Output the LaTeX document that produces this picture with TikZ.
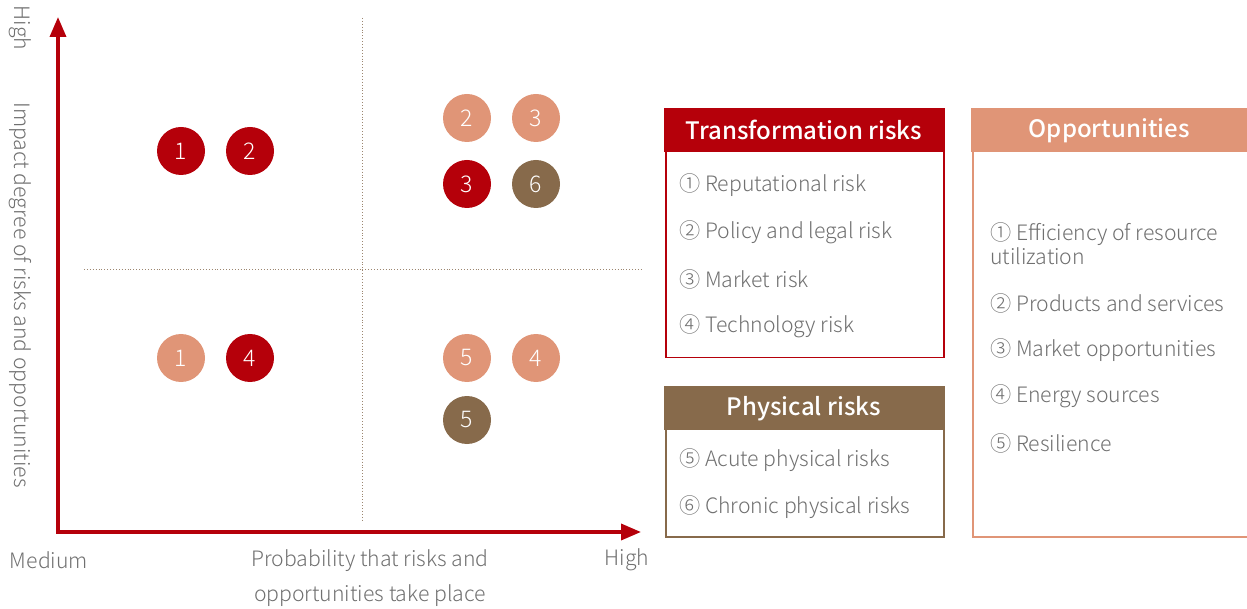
\documentclass[tikz,border=0pt]{standalone}
\usepackage{fontspec}
\setmainfont{Noto Sans CJK SC}[UprightFont={* Light},BoldFont={* Medium}]
\usetikzlibrary{positioning,arrows.meta}
\definecolor{riskred}{HTML}{B5000A}
\definecolor{oppsalmon}{HTML}{E09577}
\definecolor{physbrown}{HTML}{876A4B}
\definecolor{labelgray}{HTML}{707070}
\definecolor{gridline}{HTML}{9C8670}

\begin{document}
\begin{tikzpicture}[x=1pt,y=-1pt]
    \tikzstyle{every node}=[inner sep=0,text=labelgray]
    \tikzstyle{dot}=[circle,minimum size=48,text=white,font=\fontsize{23}{23}\selectfont]
    \tikzstyle{head}=[anchor=north west,minimum height=44,text=white,font=\fontsize{24}{24}\selectfont\bfseries]
    \tikzstyle{panel}=[anchor=north west,line width=1.5,fill=white]
    \tikzstyle{item}=[anchor=west,align=left,font=\fontsize{21.2}{24}\selectfont]
    \tikzstyle{axislabel}=[font=\fontsize{21.2}{35}\selectfont]
    \tikzstyle{axis}=[draw=riskred,line width=3.5,line join=miter,{Triangle[length=20,width=16]}-{Triangle[length=20,width=16]}]
    \tikzstyle{grid}=[draw=gridline,dotted,line width=0.9]
    \useasboundingbox (0,0) rectangle (1247,609);
    {
        % axes and quadrant lines
        \coordinate (ytop) at (58,17);
        \coordinate (origin) at (58,532);
        \coordinate (xend) at (641,532);
        \coordinate (vtop) at (362,18);
        \coordinate (vbot) at (362,520);
        \coordinate (hleft) at (84,269);
        \coordinate (hright) at (642,269);
        \draw[grid] (vtop) -- (vbot);
        \draw[grid] (hleft) -- (hright);
        \draw[axis] (ytop) -- (origin) -- (xend);

        \node[axislabel,rotate=-90] (yhigh) at (20,28) {High};
        \node[axislabel,rotate=-90] (ytitle) at (20,295) {Impact degree of risks and opportunities};
        \node[axislabel] (xmed) at (49,560) {Medium};
        \node[axislabel,align=center] (xtitle) at (370,578) {Probability that risks and\\opportunities take place};
        \node[axislabel] (xhigh) at (627,560) {High};

        % bubbles
        \node[dot,fill=riskred] (ta1) at (181,151) {1};
        \node[dot,fill=riskred] (ta2) at (250,151) {2};
        \node[dot,fill=oppsalmon] (ob2) at (467,118) {2};
        \node[dot,fill=oppsalmon] (ob3) at (536,118) {3};
        \node[dot,fill=riskred] (tb3) at (467,184) {3};
        \node[dot,fill=physbrown] (pb6) at (536,184) {6};
        \node[dot,fill=oppsalmon] (oc1) at (181,358) {1};
        \node[dot,fill=riskred] (tc4) at (250,358) {4};
        \node[dot,fill=oppsalmon] (od5) at (467,358) {5};
        \node[dot,fill=oppsalmon] (od4) at (536,358) {4};
        \node[dot,fill=physbrown] (pd5) at (467,420) {5};

        % legend: transformation risks
        \node[panel,draw=riskred,minimum width=278,minimum height=249] (tbody) at (665,108) {};
        \node[head,fill=riskred,minimum width=279.5] (thead) at (664,108) {Transformation risks};
        \node[item] (titem1) at (679,185) {① Reputational risk};
        \node[item] (titem2) at (679,232) {② Policy and legal risk};
        \node[item] (titem3) at (679,279) {③ Market risk};
        \node[item] (titem4) at (679,326) {④ Technology risk};

        % legend: physical risks
        \node[panel,draw=physbrown,minimum width=278,minimum height=150] (pbody) at (665,386) {};
        \node[head,fill=physbrown,minimum width=279.5] (phead) at (664,386) {Physical risks};
        \node[item] (pitem5) at (679,460) {⑤ Acute physical risks};
        \node[item] (pitem6) at (679,507) {⑥ Chronic physical risks};

        % legend: opportunities
        \node[panel,draw=oppsalmon,minimum width=276,minimum height=428] (obody) at (972,108) {};
        \node[head,fill=oppsalmon,minimum width=276] (ohead) at (971,108) {Opportunities};
        \node[item] (oitem1) at (990,244) {① Efficiency of resource\\utilization};
        \node[item] (oitem2) at (990,303) {② Products and services};
        \node[item] (oitem3) at (990,350) {③ Market opportunities};
        \node[item] (oitem4) at (990,396) {④ Energy sources};
        \node[item] (oitem5) at (990,443) {⑤ Resilience};
    }
\end{tikzpicture}
\end{document}
